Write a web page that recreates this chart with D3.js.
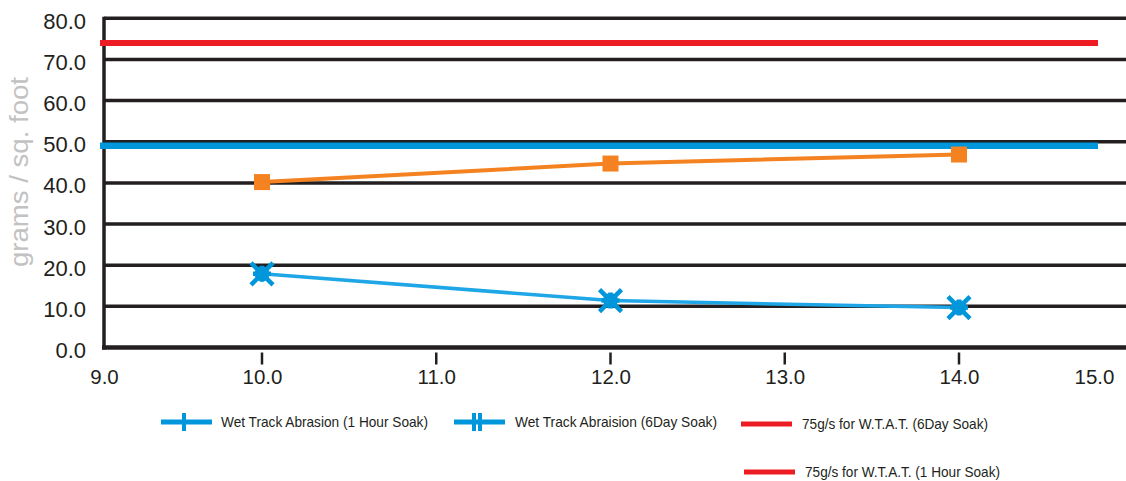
<!DOCTYPE html>
<html><head><meta charset="utf-8">
<script src="https://cdn.jsdelivr.net/npm/d3@7"></script>
<style>
html,body{margin:0;padding:0;background:#fff;}
svg{display:block;font-family:"Liberation Sans",Arial,Helvetica,sans-serif;}
</style></head>
<body>
<svg id="chart" width="1126" height="481"></svg>
<script>
// ---- data ----
const xTickValues = [9, 10, 11, 12, 13, 14, 15];
const xTickMarks = [10, 11, 12, 13, 14];
const yTickValues = [0, 10, 20, 30, 40, 50, 60, 70, 80];
const xPoints = [10, 12, 14];
const orangeValues = [40.2, 44.7, 46.9];
const blueValues = [17.9, 11.4, 9.7];
const redLimit = 74;
const blueLimit = 49;
const yTitle = "grams / sq. foot";
const legendLabels = ["Wet Track Abrasion (1 Hour Soak)", "Wet Track Abraision (6Day Soak)", "75g/s for W.T.A.T. (6Day Soak)", "75g/s for W.T.A.T. (1 Hour Soak)"];

const ink = "#231f20", red = "#ed1c24", blue = "#0096db", lightBlue = "#1ea6e6", orange = "#f58220";

const svg = d3.select("#chart");
const x = d3.scaleLinear().domain([9, 10, 14, 15]).range([104, 262, 959, 1094]);
const y = d3.scaleLinear().domain([0, 80]).range([347.5, 18.3]);

// gridlines
svg.append("g").selectAll("line").data(yTickValues.filter(d => d > 0)).join("line")
  .attr("x1", 104).attr("x2", 1130).attr("y1", d => y(d)).attr("y2", d => y(d))
  .attr("stroke", ink).attr("stroke-width", 3.5);

// axes lines
svg.append("line").attr("x1", 104).attr("x2", 104).attr("y1", y(80) - 1.5).attr("y2", y(0) + 2)
  .attr("stroke", ink).attr("stroke-width", 3.5);
svg.append("line").attr("x1", 102).attr("x2", 1130).attr("y1", y(0)).attr("y2", y(0))
  .attr("stroke", ink).attr("stroke-width", 4.5);

// y labels
const yAxis = d3.axisLeft(y).tickValues(yTickValues).tickFormat(d3.format(".1f")).tickSize(0).tickPadding(0);
const gy = svg.append("g").attr("transform", "translate(86,3)").call(yAxis);
gy.select(".domain").remove();
gy.selectAll("text").attr("font-size", 22).attr("fill", ink).attr("font-family", "inherit");

// x ticks & labels
const xAxis = d3.axisBottom(x).tickValues(xTickValues).tickFormat(d3.format(".1f")).tickSize(0).tickPadding(0);
const gx = svg.append("g").attr("transform", `translate(0,${y(0) + 36})`).call(xAxis);
gx.select(".domain").remove();
gx.selectAll("text").attr("font-size", 20.5).attr("fill", ink).attr("font-family", "inherit").attr("dy", "0");
svg.append("g").selectAll("line").data(xTickMarks).join("line")
  .attr("x1", d => x(d)).attr("x2", d => x(d)).attr("y1", y(0) + 5).attr("y2", y(0) + 17)
  .attr("stroke", ink).attr("stroke-width", 2.5);

// y title
svg.append("text").attr("transform", `translate(28,${172}) rotate(-90)`)
  .attr("text-anchor", "middle").attr("font-size", 25).attr("fill", "#c2c2c2")
  .attr("textLength", 190).attr("lengthAdjust", "spacingAndGlyphs").text(yTitle);

// limit lines
svg.append("line").attr("x1", x(9) - 4).attr("x2", x(15) + 4).attr("y1", y(redLimit)).attr("y2", y(redLimit))
  .attr("stroke", red).attr("stroke-width", 6);
svg.append("line").attr("x1", x(9) - 4).attr("x2", x(15) + 4).attr("y1", y(blueLimit)).attr("y2", y(blueLimit))
  .attr("stroke", blue).attr("stroke-width", 6.5);

// orange series
const line = d3.line().x((d, i) => x(xPoints[i])).y(d => y(d));
svg.append("path").datum(orangeValues).attr("d", line).attr("fill", "none")
  .attr("stroke", orange).attr("stroke-width", 4);
svg.append("g").selectAll("rect").data(orangeValues).join("rect")
  .attr("x", (d, i) => x(xPoints[i]) - 8).attr("y", d => y(d) - 8)
  .attr("width", 16).attr("height", 16).attr("fill", orange);

// blue series
svg.append("path").datum(blueValues).attr("d", line).attr("fill", "none")
  .attr("stroke", lightBlue).attr("stroke-width", 3.5);
const stars = svg.append("g").selectAll("g").data(blueValues).join("g")
  .attr("transform", (d, i) => `translate(${x(xPoints[i])},${y(d)})`);
stars.append("path").attr("d", "M-11,-11L11,11M-11,11L11,-11M-9,0L9,0M0,-8L0,8")
  .attr("stroke", blue).attr("stroke-width", 4.5).attr("fill", "none");
stars.append("circle").attr("r", 7.5).attr("fill", blue);

// legend
const legendItems = [
  {lx: 161, ly: 422, tx: 221, tw: 207, color: blue, mark: "plus"},
  {lx: 454, ly: 422, tx: 515, tw: 202, color: blue, mark: "double"},
  {lx: 741, ly: 424, tx: 802, tw: 186, color: red, mark: "none"},
  {lx: 744, ly: 472, tx: 805, tw: 195, color: red, mark: "none"}
];
const lg = svg.append("g").selectAll("g").data(legendItems).join("g");
lg.append("line").attr("x1", d => d.lx).attr("x2", d => d.lx + 51).attr("y1", d => d.ly).attr("y2", d => d.ly)
  .attr("stroke", d => d.color).attr("stroke-width", 5);
lg.filter(d => d.mark === "plus").append("line")
  .attr("x1", d => d.lx + 23).attr("x2", d => d.lx + 23).attr("y1", d => d.ly - 9).attr("y2", d => d.ly + 9)
  .attr("stroke", d => d.color).attr("stroke-width", 4);
lg.filter(d => d.mark === "double").selectAll("line.tk").data(d => [d, d]).join("line").attr("class", "tk")
  .attr("x1", (d, i) => d.lx + 20 + i * 6).attr("x2", (d, i) => d.lx + 20 + i * 6)
  .attr("y1", d => d.ly - 9).attr("y2", d => d.ly + 9)
  .attr("stroke", d => d.color).attr("stroke-width", 4);
lg.append("text").attr("x", d => d.tx).attr("y", d => d.ly).attr("dy", "0.35em")
  .attr("font-size", 15).attr("fill", ink)
  .attr("textLength", d => d.tw).attr("lengthAdjust", "spacingAndGlyphs")
  .text((d, i) => legendLabels[i]);
</script>
</body></html>
